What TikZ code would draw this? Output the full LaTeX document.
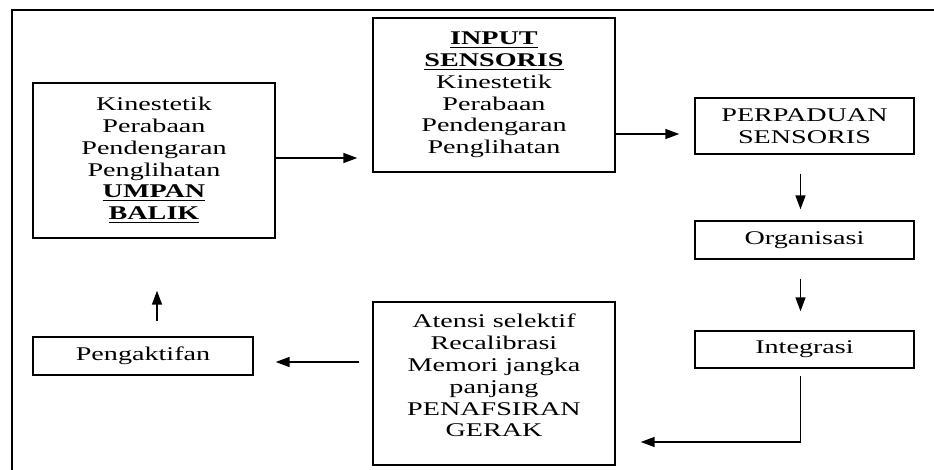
\documentclass[tikz,border=0pt]{standalone}
\usepackage{fontspec}
\setmainfont{Liberation Serif}[FakeStretch=1.45]
\usepackage{tikz}
\usetikzlibrary{shapes,arrows.meta,calc}
\newcommand{\ulbold}[1]{\underline{\textbf{#1}}}
\tikzset{blok/.style={draw=black,line width=0.7pt,rectangle,align=center,inner sep=0pt},
  panah/.style={-{Triangle[length=7pt,width=5pt]},line width=0.8pt}}

\begin{document}
\begin{tikzpicture}[x=0.5pt, y=-0.5pt,
    every node/.style={font=\fontsize{9.7}{10.9}\selectfont}]
    \useasboundingbox (0,0) rectangle (934,470);
    \draw[line width=1.1pt] (934,10) -- (12,10) -- (12,470);
    % kotak-kotak
    \node[blok, minimum width=121pt, minimum height=77.5pt] (umpan) at (154,160.5)
      {Kinestetik\\Perabaan\\Pendengaran\\Penglihatan\\\ulbold{UMPAN}\\\ulbold{BALIK}};
    \node[blok, minimum width=121pt, minimum height=77pt] (input) at (494,95)
      {\ulbold{INPUT}\\\ulbold{SENSORIS}\\Kinestetik\\Perabaan\\Pendengaran\\Penglihatan};
    \node[blok, minimum width=109.5pt, minimum height=28pt] (perpaduan) at (804.5,126)
      {PERPADUAN\\SENSORIS};
    \node[blok, minimum width=109.5pt, minimum height=19pt] (organisasi) at (804.5,240)
      {Organisasi};
    \node[blok, minimum width=109.5pt, minimum height=18.5pt] (integrasi) at (804.5,349.5)
      {Integrasi};
    \node[blok, minimum width=121pt, minimum height=81.5pt] (atensi) at (494,383.5)
      {Atensi selektif\\Recalibrasi\\Memori jangka\\panjang\\PENAFSIRAN\\GERAK\\[-3pt]~};
    \node[blok, minimum width=110pt, minimum height=19pt] (aktif) at (143,356)
      {Pengaktifan};
    % panah
    \draw[panah, shorten >=7.5pt] ($(umpan.east)+(0,-2.5)$) -- ($(umpan.east -| input.west)+(0,-2.5)$);
    \draw[panah, shorten >=7.5pt] ($(perpaduan.west -| input.east)+(0,8)$) -- ($(perpaduan.west)+(0,8)$);
    \draw[panah, shorten <=9.5pt, shorten >=5.5pt] ([xshift=-2pt]perpaduan.south) -- ([xshift=-2pt]organisasi.north);
    \draw[panah, shorten <=9.5pt, shorten >=9.5pt] ([xshift=-2pt]organisasi.south) -- ([xshift=-2pt]integrasi.north);
    \draw[panah, shorten <=3.5pt, shorten >=12.5pt] ([xshift=-2pt]integrasi.south) |- ($(atensi.east)+(0,58.5)$);
    \draw[panah, shorten <=6.5pt, shorten >=11pt] ($(aktif.east -| atensi.west)+(0,6)$) -- ($(aktif.east)+(0,6)$);
    \draw[panah, shorten <=7.5pt, shorten >=26pt] ([xshift=7pt]aktif.north) -- ([xshift=7pt]aktif.north |- umpan.south);
\end{tikzpicture}
\end{document}
